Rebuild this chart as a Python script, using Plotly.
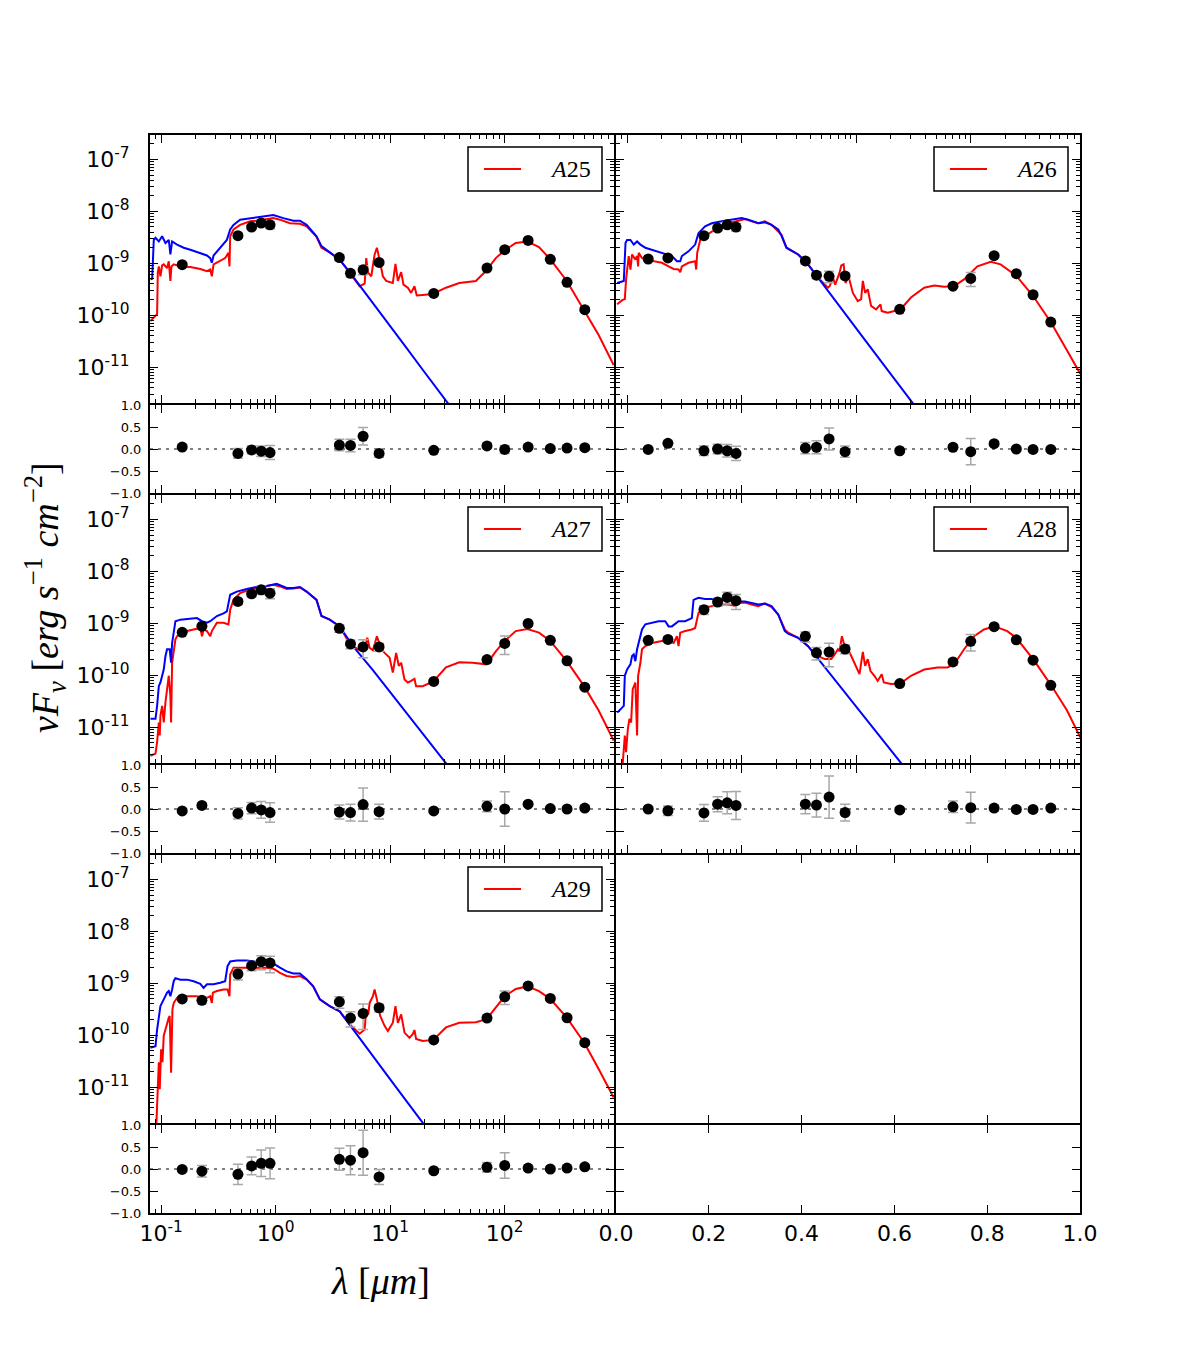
import plotly.graph_objects as go

W, H = 1200, 1350

# ---------------- data ----------------
filter_wavelength_um = [0.1528, 0.2271, 0.4686, 0.6166, 0.7480, 0.8932,
                        3.6, 4.5, 5.8, 8.0, 24.0, 70.0, 100.0, 160.0, 250.0, 350.0, 500.0]

source_names = ["A25", "A26", "A27", "A28", "A29"]

# observed nuFnu [erg s^-1 cm^-2] (None = no measurement)
a25_flux = [9.4e-10, None, 3.4e-9, 4.98e-9, 5.94e-9, 5.5e-9, 1.29e-9, 6.4e-10, 7.5e-10, 1.04e-9,
            2.63e-10, 8.1e-10, 1.83e-9, 2.76e-9, 1.19e-9, 4.3e-10, 1.28e-10]
a26_flux = [1.21e-9, 1.27e-9, 3.4e-9, 4.76e-9, 5.5e-9, 4.98e-9, 1.11e-9, 5.9e-10, 5.6e-10, 5.7e-10,
            1.30e-10, 3.63e-10, 5.1e-10, 1.40e-9, 6.3e-10, 2.48e-10, 7.4e-11]
a27_flux = [6.7e-10, 8.8e-10, 2.64e-9, 3.7e-9, 4.4e-9, 3.8e-9, 8.0e-10, 4.0e-10, 3.5e-10, 3.5e-10,
            7.6e-11, 2.0e-10, 4.1e-10, 9.9e-10, 4.7e-10, 1.9e-10, 5.9e-11]
a28_flux = [4.7e-10, 4.9e-10, 1.83e-9, 2.57e-9, 3.15e-9, 2.72e-9, 5.6e-10, 2.7e-10, 2.8e-10, 3.2e-10,
            6.9e-11, 1.8e-10, 4.5e-10, 8.6e-10, 4.8e-10, 1.95e-10, 6.4e-11]
a29_flux = [5.0e-10, 4.7e-10, 1.51e-9, 2.18e-9, 2.6e-9, 2.46e-9, 4.4e-10, 2.14e-10, 2.63e-10, 3.38e-10,
            8.1e-11, 2.14e-10, 5.5e-10, 8.9e-10, 5.1e-10, 2.17e-10, 7.2e-11]

# relative flux uncertainties
a25_relerr = [0.05, None, 0.11, 0.09, 0.12, 0.16, 0.13, 0.14, 0.20, 0.09, 0.04, 0.06, 0.09, 0.05, 0.05, 0.04, 0.05]
a26_relerr = [0.04, 0.05, 0.11, 0.11, 0.14, 0.16, 0.13, 0.15, 0.25, 0.13, 0.04, 0.05, 0.30, 0.05, 0.04, 0.04, 0.04]
a27_relerr = [0.04, 0.06, 0.13, 0.13, 0.19, 0.22, 0.16, 0.19, 0.38, 0.17, 0.04, 0.12, 0.39, 0.05, 0.04, 0.04, 0.05]
a28_relerr = [0.04, 0.11, 0.19, 0.17, 0.25, 0.32, 0.22, 0.27, 0.48, 0.19, 0.04, 0.13, 0.35, 0.06, 0.05, 0.05, 0.05]
a29_relerr = [0.04, 0.13, 0.23, 0.20, 0.30, 0.35, 0.25, 0.33, 0.51, 0.17, 0.04, 0.11, 0.29, 0.05, 0.05, 0.04, 0.05]

# residuals (obs - model)/obs
a25_resid = [0.045, None, -0.10, -0.02, -0.05, -0.08, 0.09, 0.08, 0.29, -0.10, -0.03, 0.07, -0.01, 0.045, 0.01, 0.02, 0.03]
a26_resid = [-0.01, 0.13, -0.04, 0.0, -0.04, -0.10, 0.02, 0.04, 0.23, -0.06, -0.04, 0.04, -0.06, 0.12, 0.0, -0.01, -0.01]
a27_resid = [-0.045, 0.08, -0.10, 0.02, -0.02, -0.08, -0.07, -0.08, 0.10, -0.06, -0.045, 0.06, 0.0, 0.11, 0.01, 0.0, 0.02]
a28_resid = [0.0, -0.04, -0.09, 0.11, 0.14, 0.08, 0.11, 0.09, 0.27, -0.08, -0.02, 0.05, 0.03, 0.02, -0.01, -0.01, 0.02]
a29_resid = [-0.01, -0.05, -0.12, 0.07, 0.13, 0.13, 0.22, 0.20, 0.37, -0.18, -0.04, 0.04, 0.08, 0.02, 0.0, 0.02, 0.05]

# best-fit total model (red): log10(lambda/um), log10(nuFnu)
a25_model_loglam = [-1.093, -1.049, -1.035, -1.029, -1.020, -1.006, -0.991, -0.977, -0.948, -0.933,
                    -0.919, -0.910, -0.890, -0.832, -0.745, -0.658, -0.600, -0.571, -0.557, -0.542,
                    -0.484, -0.441, -0.412, -0.403, -0.397, -0.368, -0.310, -0.223, -0.165, -0.078,
                    -0.020, 0.038, 0.125, 0.212, 0.270, 0.357, 0.400, 0.472, 0.559, 0.646,
                    0.733, 0.777, 0.791, 0.806, 0.835, 0.864, 0.884, 0.913, 0.936, 0.965,
                    1.023, 1.046, 1.067, 1.096, 1.116, 1.154, 1.183, 1.212, 1.232, 1.284,
                    1.371, 1.487, 1.603, 1.748, 1.835, 1.922, 2.000, 2.096, 2.197, 2.299,
                    2.397, 2.542, 2.693, 2.820, 2.951]
a25_model_logf = [-10.11, -10.01, -9.98, -9.18, -9.06, -9.25, -9.04, -9.02, -9.09, -8.96,
                  -9.34, -9.06, -9.02, -9.06, -9.07, -9.11, -9.15, -9.12, -9.25, -9.02,
                  -8.96, -8.90, -8.80, -9.06, -8.48, -8.35, -8.26, -8.19, -8.18, -8.15,
                  -8.13, -8.16, -8.23, -8.24, -8.29, -8.49, -8.70, -8.79, -8.93, -9.18,
                  -9.44, -9.39, -8.90, -9.18, -9.25, -8.83, -8.70, -8.99, -9.25, -9.34,
                  -9.38, -9.01, -9.34, -9.17, -9.41, -9.47, -9.57, -9.44, -9.62, -9.61,
                  -9.59, -9.47, -9.38, -9.34, -9.15, -8.90, -8.75, -8.61, -8.58, -8.69,
                  -8.92, -9.34, -9.89, -10.38, -10.96]

a26_model_loglam = [-1.087, -1.043, -1.020, -1.009, -0.986, -0.971, -0.957, -0.928, -0.913, -0.904,
                    -0.899, -0.870, -0.841, -0.754, -0.696, -0.638, -0.594, -0.551, -0.536, -0.522,
                    -0.464, -0.406, -0.397, -0.388, -0.362, -0.319, -0.261, -0.203, -0.116, -0.029,
                    0.029, 0.087, 0.145, 0.203, 0.261, 0.348, 0.391, 0.493, 0.580, 0.667,
                    0.754, 0.768, 0.797, 0.817, 0.841, 0.855, 0.870, 0.890, 0.907, 0.933,
                    0.971, 1.014, 1.043, 1.058, 1.078, 1.101, 1.130, 1.174, 1.212, 1.223,
                    1.275, 1.386, 1.478, 1.594, 1.681, 1.768, 1.855, 1.942, 2.058, 2.174,
                    2.261, 2.348, 2.397, 2.545, 2.701, 2.841, 2.957]
a26_model_logf = [-9.79, -9.71, -9.69, -9.31, -8.86, -9.12, -8.83, -8.93, -8.86, -9.06,
                  -8.80, -8.90, -8.93, -8.96, -8.99, -9.06, -9.11, -9.12, -9.17, -9.06,
                  -8.99, -8.96, -9.12, -8.80, -8.55, -8.48, -8.39, -8.32, -8.23, -8.18,
                  -8.15, -8.19, -8.23, -8.19, -8.26, -8.45, -8.70, -8.83, -9.02, -9.28,
                  -9.47, -9.44, -9.28, -9.41, -9.26, -9.18, -9.04, -9.02, -9.38, -9.25,
                  -9.57, -9.73, -9.69, -9.34, -9.57, -9.50, -9.82, -9.89, -9.79, -9.92,
                  -9.95, -9.89, -9.66, -9.47, -9.43, -9.45, -9.44, -9.31, -9.06, -8.97,
                  -9.02, -9.15, -9.24, -9.63, -10.14, -10.68, -11.13]

a27_model_loglam = [-1.093, -1.049, -1.035, -1.020, -1.012, -1.006, -0.991, -0.977, -0.962, -0.948,
                    -0.933, -0.919, -0.913, -0.904, -0.890, -0.875, -0.861, -0.832, -0.774, -0.716,
                    -0.658, -0.643, -0.629, -0.600, -0.571, -0.557, -0.513, -0.455, -0.412, -0.397,
                    -0.368, -0.310, -0.223, -0.165, -0.078, -0.020, 0.038, 0.096, 0.154, 0.212,
                    0.270, 0.357, 0.400, 0.472, 0.559, 0.617, 0.675, 0.733, 0.777, 0.800,
                    0.820, 0.849, 0.884, 0.922, 0.951, 0.994, 1.023, 1.052, 1.075, 1.096,
                    1.125, 1.154, 1.183, 1.212, 1.226, 1.284, 1.377, 1.487, 1.603, 1.719,
                    1.841, 1.922, 2.000, 2.096, 2.197, 2.299, 2.397, 2.542, 2.693, 2.820,
                    2.951]
a27_model_logf = [-11.55, -11.51, -11.29, -10.91, -11.16, -10.78, -10.59, -10.91, -10.52, -10.27,
                  -10.01, -10.40, -10.91, -9.76, -9.50, -9.31, -9.25, -9.18, -9.15, -9.12,
                  -9.09, -9.25, -9.12, -9.15, -9.25, -9.15, -8.99, -8.99, -9.02, -8.74,
                  -8.55, -8.42, -8.35, -8.32, -8.29, -8.26, -8.29, -8.34, -8.33, -8.31,
                  -8.39, -8.55, -8.86, -8.93, -9.06, -9.28, -9.44, -9.52, -9.50, -9.28,
                  -9.47, -9.52, -9.25, -9.50, -9.57, -9.66, -9.95, -9.57, -9.82, -9.76,
                  -10.08, -10.14, -10.11, -10.07, -10.21, -10.21, -10.12, -9.85, -9.75, -9.76,
                  -9.79, -9.54, -9.34, -9.15, -9.11, -9.18, -9.34, -9.73, -10.21, -10.68,
                  -11.26]

a28_model_loglam = [-1.038, -1.020, -1.009, -0.994, -0.980, -0.965, -0.951, -0.939, -0.928, -0.913,
                    -0.904, -0.884, -0.870, -0.841, -0.783, -0.696, -0.638, -0.594, -0.565, -0.551,
                    -0.536, -0.493, -0.435, -0.406, -0.391, -0.377, -0.348, -0.319, -0.261, -0.174,
                    -0.116, -0.058, -0.029, 0.029, 0.087, 0.145, 0.203, 0.261, 0.319, 0.377,
                    0.406, 0.493, 0.580, 0.638, 0.725, 0.783, 0.812, 0.841, 0.855, 0.875,
                    0.899, 0.928, 0.957, 1.000, 1.029, 1.058, 1.078, 1.101, 1.125, 1.159,
                    1.188, 1.223, 1.241, 1.304, 1.386, 1.478, 1.594, 1.710, 1.797, 1.855,
                    1.942, 2.029, 2.116, 2.206, 2.319, 2.397, 2.545, 2.701, 2.841, 2.957]
a28_model_logf = [-11.69, -11.16, -11.48, -11.04, -10.84, -10.91, -10.27, -10.21, -10.14, -11.16,
                  -10.01, -9.76, -9.50, -9.44, -9.38, -9.34, -9.34, -9.38, -9.25, -9.44,
                  -9.18, -9.15, -9.12, -9.09, -8.90, -8.80, -8.74, -8.70, -8.67, -8.64,
                  -8.64, -8.66, -8.61, -8.60, -8.64, -8.67, -8.62, -8.69, -8.83, -9.12,
                  -9.18, -9.28, -9.44, -9.60, -9.69, -9.69, -9.60, -9.50, -9.54, -9.25,
                  -9.44, -9.50, -9.63, -9.85, -9.98, -9.55, -9.82, -9.69, -9.92, -10.01,
                  -10.11, -9.98, -10.14, -10.17, -10.16, -10.01, -9.89, -9.85, -9.85, -9.79,
                  -9.50, -9.25, -9.12, -9.06, -9.15, -9.28, -9.69, -10.19, -10.68, -11.20]

a29_model_loglam = [-1.041, -1.029, -1.020, -1.012, -1.000, -0.988, -0.977, -0.962, -0.948, -0.933,
                    -0.925, -0.913, -0.901, -0.890, -0.861, -0.803, -0.745, -0.687, -0.643, -0.600,
                    -0.571, -0.557, -0.548, -0.513, -0.455, -0.420, -0.403, -0.397, -0.368, -0.310,
                    -0.223, -0.165, -0.078, -0.020, 0.038, 0.096, 0.154, 0.212, 0.270, 0.328,
                    0.386, 0.472, 0.559, 0.646, 0.733, 0.777, 0.791, 0.809, 0.820, 0.849,
                    0.864, 0.884, 0.913, 0.951, 0.980, 1.023, 1.046, 1.067, 1.096, 1.125,
                    1.168, 1.197, 1.212, 1.226, 1.284, 1.377, 1.487, 1.603, 1.748, 1.841,
                    1.922, 2.000, 2.096, 2.197, 2.299, 2.397, 2.542, 2.693, 2.820, 2.951]
a29_model_logf = [-11.69, -11.16, -10.52, -11.04, -10.27, -10.52, -10.01, -9.89, -9.76, -9.66,
                  -9.63, -10.72, -9.50, -9.38, -9.28, -9.25, -9.25, -9.25, -9.28, -9.28,
                  -9.25, -9.38, -9.18, -9.15, -9.12, -9.12, -9.25, -8.83, -8.70, -8.70,
                  -8.70, -8.70, -8.70, -8.72, -8.80, -8.86, -8.88, -8.86, -8.93, -9.06,
                  -9.31, -9.44, -9.54, -9.79, -9.97, -9.89, -9.50, -9.60, -9.38, -9.25,
                  -9.12, -9.31, -9.63, -9.82, -9.92, -9.76, -9.44, -9.76, -9.60, -9.95,
                  -10.05, -9.98, -9.90, -10.07, -10.11, -10.09, -9.85, -9.76, -9.75, -9.69,
                  -9.47, -9.25, -9.11, -9.06, -9.15, -9.30, -9.66, -10.14, -10.65, -11.20]

# intrinsic stellar spectrum (blue)
a25_star_loglam = [-1.093, -1.078, -1.064, -1.049, -1.020, -0.991, -0.962, -0.933, -0.919, -0.904,
                   -0.861, -0.803, -0.745, -0.658, -0.600, -0.571, -0.557, -0.542, -0.499, -0.455,
                   -0.426, -0.397, -0.368, -0.310, -0.223, -0.136, -0.020, 0.067, 0.154, 0.212,
                   0.270, 0.357, 0.400, 0.472, 0.559, 0.646, 0.733, 0.849, 0.994, 1.139,
                   1.284, 1.429, 1.574]
a25_star_logf = [-9.31, -9.30, -8.55, -8.51, -8.58, -8.48, -8.61, -8.55, -8.83, -8.58,
                 -8.64, -8.70, -8.74, -8.81, -8.85, -8.90, -8.99, -8.85, -8.74, -8.64,
                 -8.55, -8.35, -8.26, -8.16, -8.13, -8.10, -8.07, -8.13, -8.18, -8.18,
                 -8.26, -8.48, -8.67, -8.79, -8.93, -9.17, -9.43, -9.77, -10.19, -10.62,
                 -11.05, -11.48, -11.90]

a26_star_loglam = [-1.087, -1.029, -1.014, -1.000, -0.971, -0.942, -0.913, -0.884, -0.841, -0.783,
                   -0.696, -0.609, -0.565, -0.536, -0.522, -0.464, -0.406, -0.377, -0.319, -0.261,
                   -0.174, -0.087, 0.000, 0.058, 0.145, 0.203, 0.261, 0.319, 0.348, 0.391,
                   0.493, 0.580, 0.667, 0.783, 0.899, 1.043, 1.188, 1.333, 1.493, 1.565]
a26_star_logf = [-9.38, -9.34, -8.61, -8.55, -8.55, -8.64, -8.58, -8.64, -8.70, -8.74,
                 -8.80, -8.86, -8.96, -8.96, -8.86, -8.77, -8.64, -8.42, -8.29, -8.23,
                 -8.19, -8.16, -8.13, -8.16, -8.23, -8.21, -8.26, -8.35, -8.47, -8.70,
                 -8.83, -9.02, -9.28, -9.62, -9.96, -10.38, -10.80, -11.22, -11.69, -11.90]

a27_star_loglam = [-1.093, -1.049, -1.035, -1.020, -1.006, -0.991, -0.977, -0.962, -0.948, -0.925,
                   -0.913, -0.904, -0.890, -0.875, -0.832, -0.745, -0.687, -0.643, -0.600, -0.571,
                   -0.513, -0.455, -0.426, -0.397, -0.339, -0.252, -0.165, -0.078, 0.009, 0.096,
                   0.154, 0.212, 0.270, 0.357, 0.400, 0.472, 0.559, 0.617, 0.675, 0.849,
                   0.994, 1.139, 1.284, 1.371, 1.487, 1.574]
a27_star_logf = [-10.84, -10.84, -10.59, -10.21, -10.14, -10.01, -9.89, -9.63, -9.50, -9.50,
                 -9.76, -9.38, -9.12, -8.96, -8.93, -8.92, -8.90, -8.96, -8.99, -8.96,
                 -8.86, -8.81, -8.77, -8.45, -8.39, -8.34, -8.30, -8.28, -8.24, -8.32,
                 -8.32, -8.30, -8.39, -8.55, -8.86, -8.93, -9.06, -9.25, -9.44, -9.90,
                 -10.31, -10.71, -11.12, -11.36, -11.69, -11.94]

a28_star_loglam = [-1.087, -1.029, -1.020, -1.000, -0.971, -0.957, -0.942, -0.928, -0.913, -0.899,
                   -0.870, -0.841, -0.783, -0.725, -0.667, -0.638, -0.609, -0.551, -0.493, -0.435,
                   -0.420, -0.377, -0.319, -0.261, -0.174, -0.087, -0.029, 0.029, 0.087, 0.145,
                   0.203, 0.261, 0.319, 0.377, 0.406, 0.493, 0.580, 0.667, 0.783, 0.899,
                   1.043, 1.188, 1.333, 1.391, 1.478]
a28_star_logf = [-10.72, -10.59, -10.01, -9.89, -9.79, -9.63, -9.60, -9.73, -9.50, -9.38,
                 -9.12, -9.02, -8.99, -8.96, -8.96, -9.06, -9.06, -8.96, -8.96, -8.90,
                 -8.55, -8.51, -8.53, -8.53, -8.55, -8.53, -8.58, -8.58, -8.61, -8.64,
                 -8.62, -8.67, -8.83, -9.15, -9.20, -9.28, -9.44, -9.68, -10.00, -10.32,
                 -10.72, -11.13, -11.53, -11.69, -11.93]

a29_star_loglam = [-1.093, -1.049, -1.035, -1.020, -1.006, -0.977, -0.948, -0.933, -0.919, -0.904,
                   -0.890, -0.875, -0.832, -0.774, -0.716, -0.658, -0.629, -0.600, -0.542, -0.484,
                   -0.441, -0.420, -0.397, -0.339, -0.252, -0.165, -0.078, -0.020, 0.038, 0.096,
                   0.154, 0.212, 0.270, 0.328, 0.386, 0.472, 0.559, 0.675, 0.849, 0.994,
                   1.139, 1.284, 1.371]
a29_star_logf = [-10.24, -10.21, -9.89, -9.69, -9.44, -9.31, -9.18, -9.15, -9.25, -9.12,
                 -8.96, -8.90, -8.93, -8.93, -8.96, -9.01, -9.09, -9.02, -9.02, -8.99,
                 -8.96, -8.67, -8.58, -8.56, -8.56, -8.59, -8.60, -8.62, -8.70, -8.77,
                 -8.81, -8.81, -8.92, -9.06, -9.31, -9.44, -9.54, -9.89, -10.40, -10.83,
                 -11.26, -11.69, -11.94]

x_major_ticks = [0.1, 1, 10, 100]
x_major_labels = ["10<sup>-1</sup>", "10<sup>0</sup>", "10<sup>1</sup>", "10<sup>2</sup>"]
y_major_ticks = [1e-11, 1e-10, 1e-9, 1e-8, 1e-7]
y_major_labels = ["10<sup>-11</sup>", "10<sup>-10</sup>", "10<sup>-9</sup>", "10<sup>-8</sup>", "10<sup>-7</sup>"]
resid_ticks = [-1.0, -0.5, 0.0, 0.5, 1.0]
resid_labels = ["\u22121.0", "\u22120.5", "0.0", "0.5", "1.0"]
lin_ticks = [0.0, 0.2, 0.4, 0.6, 0.8, 1.0]
lin_labels = ["0.0", "0.2", "0.4", "0.6", "0.8", "1.0"]

panels = [
    dict(name=source_names[0], flux=a25_flux, err=a25_relerr, res=a25_resid,
         mx=a25_model_loglam, my=a25_model_logf, sx=a25_star_loglam, sy=a25_star_logf),
    dict(name=source_names[1], flux=a26_flux, err=a26_relerr, res=a26_resid,
         mx=a26_model_loglam, my=a26_model_logf, sx=a26_star_loglam, sy=a26_star_logf),
    dict(name=source_names[2], flux=a27_flux, err=a27_relerr, res=a27_resid,
         mx=a27_model_loglam, my=a27_model_logf, sx=a27_star_loglam, sy=a27_star_logf),
    dict(name=source_names[3], flux=a28_flux, err=a28_relerr, res=a28_resid,
         mx=a28_model_loglam, my=a28_model_logf, sx=a28_star_loglam, sy=a28_star_logf),
    dict(name=source_names[4], flux=a29_flux, err=a29_relerr, res=a29_resid,
         mx=a29_model_loglam, my=a29_model_logf, sx=a29_star_loglam, sy=a29_star_logf),
]

# ---------------- layout geometry ----------------
X_LOG_RANGE = [-1.097, 2.954]
Y_LOG_RANGE = [-11.69, -6.53]
# axis lines are drawn just outside each domain, so neighbouring domains leave a 2px gap
col_px = [(150, 614), (616, 1080)]
row_top_px = [135, 495, 855]
MAIN_H, GAP, RES_H = 268, 2, 88

x_minor = [m * 10.0 ** e for e in range(-2, 3) for m in range(2, 10)]
y_minor = [m * 10.0 ** e for e in range(-13, -6) for m in range(2, 10)]

TICKFONT = dict(family="DejaVu Sans", size=22, color="black")
SMALLFONT = dict(family="DejaVu Sans", size=13, color="black")


def xdom(c):
    return [col_px[c][0] / W, col_px[c][1] / W]


def ydom(top, bot):
    return [1 - bot / H, 1 - top / H]


def base_axis():
    return dict(showline=True, linecolor="black", linewidth=2, mirror="allticks",
                ticks="inside", tickcolor="black", tickwidth=1.3, ticklen=8,
                showgrid=False, zeroline=False, tickfont=TICKFONT, automargin=False)


def minor_log(vals):
    return dict(ticks="inside", ticklen=4, tickwidth=1, tickcolor="black",
                tickmode="array", tickvals=vals, showgrid=False)


fig = go.Figure()
layout = {}
shapes = []
annotations = []


def axname(prefix, i):
    return prefix if i == 1 else f"{prefix}{i}"


for k in range(6):
    r, c = divmod(k, 2)
    top = row_top_px[r]
    res_top = top + MAIN_H + GAP
    main_id, res_id = 2 * k + 1, 2 * k + 2
    bottom_row = (r == 2)
    empty = (k == 5)

    # main x
    ax = base_axis()
    ax.update(domain=xdom(c), anchor=f"y{main_id}", showticklabels=False)
    if empty:
        ax.update(type="linear", range=[0, 1], tickmode="array", tickvals=lin_ticks)
    else:
        ax.update(type="log", range=X_LOG_RANGE, tickmode="array", tickvals=x_major_ticks,
                  minor=minor_log(x_minor))
    layout[axname("xaxis", main_id)] = ax

    # main y
    ay = base_axis()
    ay.update(domain=ydom(top, top + MAIN_H), anchor=f"x{main_id}")
    if empty:
        ay.update(type="linear", range=[0, 1], ticks="", mirror=True, showticklabels=False)
    else:
        ay.update(type="log", range=Y_LOG_RANGE, tickmode="array", tickvals=y_major_ticks,
                  ticktext=y_major_labels, showticklabels=(c == 0), ticklabelstandoff=14,
                  minor=minor_log(y_minor))
    layout[axname("yaxis", main_id)] = ay

    # residual x
    rx = base_axis()
    rx.update(domain=xdom(c), anchor=f"y{res_id}")
    if empty:
        rx.update(type="linear", range=[0, 1], tickmode="array", tickvals=lin_ticks,
                  ticktext=lin_labels, showticklabels=True)
    else:
        rx.update(type="log", range=X_LOG_RANGE, tickmode="array", tickvals=x_major_ticks,
                  ticktext=x_major_labels, showticklabels=bottom_row, minor=minor_log(x_minor))
    layout[axname("xaxis", res_id)] = rx

    # residual y
    ry = base_axis()
    ry.update(domain=ydom(res_top, res_top + RES_H), anchor=f"x{res_id}",
              range=[-1, 1], tickmode="array", tickvals=resid_ticks, ticktext=resid_labels,
              showticklabels=(c == 0), tickfont=SMALLFONT, ticklabelstandoff=4)
    layout[axname("yaxis", res_id)] = ry

    if empty:
        # placeholder traces so the empty subplot frames are drawn
        fig.add_trace(go.Scatter(x=[None], y=[None], mode="markers", xaxis=f"x{main_id}",
                                 yaxis=f"y{main_id}", showlegend=False, hoverinfo="skip"))
        fig.add_trace(go.Scatter(x=[None], y=[None], mode="markers", xaxis=f"x{res_id}",
                                 yaxis=f"y{res_id}", showlegend=False, hoverinfo="skip"))
        continue

    p = panels[k]
    xa_m, ya_m = f"x{main_id}", f"y{main_id}"
    xa_r, ya_r = f"x{res_id}", f"y{res_id}"

    fig.add_trace(go.Scatter(x=[10 ** v for v in p["mx"]], y=[10 ** v for v in p["my"]],
                             mode="lines", line=dict(color="#ff0000", width=2),
                             xaxis=xa_m, yaxis=ya_m, name=p["name"], showlegend=False))
    fig.add_trace(go.Scatter(x=[10 ** v for v in p["sx"]], y=[10 ** v for v in p["sy"]],
                             mode="lines", line=dict(color="#0000ff", width=2),
                             xaxis=xa_m, yaxis=ya_m, showlegend=False))

    lam, fl, er, rs = [], [], [], []
    for w, f, e, q in zip(filter_wavelength_um, p["flux"], p["err"], p["res"]):
        if f is None:
            continue
        lam.append(w)
        fl.append(f)
        er.append(e)
        rs.append(q)
    errbar = dict(color="#a8a8a8", thickness=1.5, width=5)
    fig.add_trace(go.Scatter(x=lam, y=fl, mode="markers",
                             marker=dict(color="black", size=11),
                             error_y=dict(type="data", array=[f * e for f, e in zip(fl, er)], **errbar),
                             xaxis=xa_m, yaxis=ya_m, showlegend=False))
    fig.add_trace(go.Scatter(x=lam, y=rs, mode="markers",
                             marker=dict(color="black", size=11),
                             error_y=dict(type="data", array=er, **errbar),
                             xaxis=xa_r, yaxis=ya_r, showlegend=False))

    shapes.append(dict(type="line", xref=f"{xa_r} domain", x0=0, x1=1, yref=ya_r, y0=0, y1=0,
                       line=dict(color="#555555", width=1.5, dash="3px,5px"), layer="below"))

    # legend box
    right = col_px[c][1]
    shapes.append(dict(type="rect", xref="paper", yref="paper",
                       x0=(right - 146) / W, x1=(right - 12) / W,
                       y0=1 - (top + 56) / H, y1=1 - (top + 12) / H,
                       line=dict(color="black", width=1.5), fillcolor="white"))
    shapes.append(dict(type="line", xref="paper", yref="paper",
                       x0=(right - 130) / W, x1=(right - 93) / W,
                       y0=1 - (top + 34) / H, y1=1 - (top + 34) / H,
                       line=dict(color="#ff0000", width=2)))
    annotations.append(dict(xref="paper", yref="paper", x=(right - 44) / W, y=1 - (top + 34) / H,
                            text=f"<i>{p['name'][0]}</i>{p['name'][1:]}", showarrow=False,
                            xanchor="center", yanchor="middle",
                            font=dict(family="Liberation Serif", size=24, color="black")))

annotations.append(dict(xref="paper", yref="paper", x=45 / W, y=1 - 598 / H, textangle=-90,
                        text="<i>\u03bdF</i><sub><i>\u03bd</i></sub> [<i>erg</i> <i>s</i><sup>\u22121</sup> <i>cm</i><sup>\u22122</sup>]",
                        showarrow=False, xanchor="center", yanchor="middle",
                        font=dict(family="Liberation Serif", size=38, color="black")))
annotations.append(dict(xref="paper", yref="paper", x=380 / W, y=1 - 1281 / H,
                        text="<i>\u03bb</i> [<i>\u03bcm</i>]", showarrow=False,
                        xanchor="center", yanchor="middle",
                        font=dict(family="Liberation Serif", size=38, color="black")))

fig.update_layout(width=W, height=H, margin=dict(l=0, r=0, t=0, b=0, pad=0, autoexpand=False),
                  plot_bgcolor="white", paper_bgcolor="white", showlegend=False,
                  shapes=shapes, annotations=annotations, **layout)

fig.write_html("out.html",
               post_script="document.body.style.margin='0';document.body.style.padding='0';"
                           "document.documentElement.style.margin='0';")
